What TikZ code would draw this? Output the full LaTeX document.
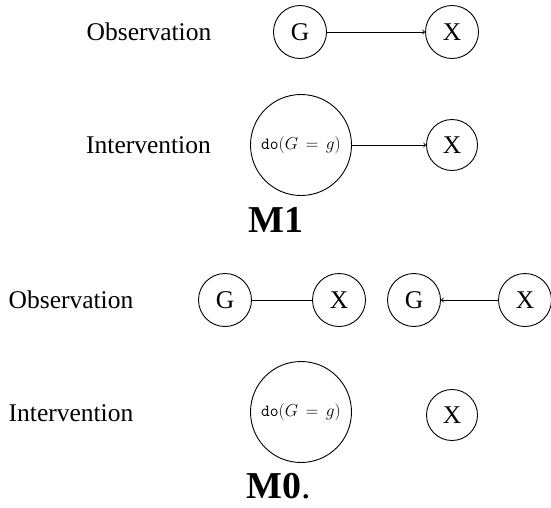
\documentclass[tikz,border=0pt]{standalone}
\usepackage{fontspec}
\setmainfont{Liberation Serif}
\begin{document}
\begin{tikzpicture}[x=1pt,y=-1pt,line width=0.9pt,
  lbl/.style={font=\fontsize{25.5}{30}\selectfont, inner sep=0pt},
  var/.style={circle, draw, minimum size=53pt, inner sep=0pt, font=\fontsize{25.5}{30}\selectfont},
  dovar/.style={circle, draw, minimum size=101pt, inner sep=0pt, font=\fontsize{17}{20}\selectfont},
  title/.style={font=\fontsize{38}{44}\selectfont\bfseries, inner sep=0pt},
  arr/.style={->, line width=0.9pt}]
\useasboundingbox (0,0) rectangle (551,507);
% M1
\node[lbl] (o1) at (149,32) {Observation};
\node[var] (g1) at (300,32) {G};
\node[var] (x1) at (452,32) {X};
\draw[arr] (g1) -- (x1);
\node[lbl] (i1) at (148.5,145) {Intervention};
\node[dovar] (d1) at (301,145) {\texttt{do}$(G\,=\,g)$};
\node[var, minimum size=51pt] (x2) at (452,145) {X};
\draw[arr] (d1) -- (x2);
\node[title] (m1) at (276,220) {M1};
% M0
\node[lbl] (o2) at (71,300) {Observation};
\node[var] (g3) at (225,300) {G};
\node[var] (x3) at (339,300) {X};
\draw (g3) -- (x3);
\node[var] (g4) at (414,300) {G};
\node[var] (x4) at (525,300) {X};
\draw[arr] (x4) -- (g4);
\node[lbl] (i2) at (71,413) {Intervention};
\node[dovar] (d2) at (301,412) {\texttt{do}$(G\,=\,g)$};
\node[var, minimum size=51pt] (x5) at (452,415) {X};
\node[title, anchor=west] (m0) at (246,486) {M0\textmd{.}};
\end{tikzpicture}
\end{document}
